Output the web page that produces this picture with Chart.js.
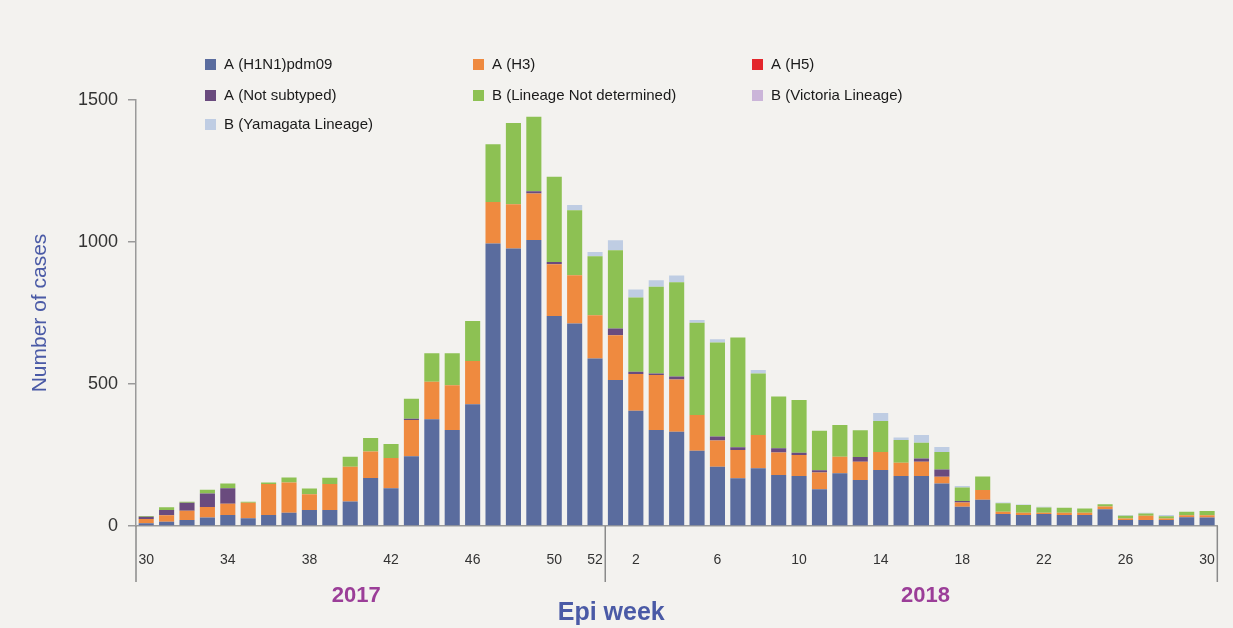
<!DOCTYPE html>
<html>
<head>
<meta charset="utf-8">
<script src="https://cdn.jsdelivr.net/npm/chart.js@4.4.0/dist/chart.umd.min.js"></script>
<style>
  html, body { margin: 0; padding: 0; background: #f3f2ef; }
  #wrap { width: 1233px; height: 628px; position: relative; }
</style>
</head>
<body>
<div id="wrap"><canvas id="myChart"></canvas></div>
<script>
// epi weeks 30/2017 .. 30/2018
const weeks = ['30','31','32','33','34','35','36','37','38','39','40','41','42','43','44','45','46','47','48','49','50','51','52',
  '1','2','3','4','5','6','7','8','9','10','11','12','13','14','15','16','17','18','19','20','21','22','23','24','25','26','27','28','29','30'];
const shownWeeks = [0, 4, 8, 12, 16, 20, 22, 24, 28, 32, 36, 40, 44, 48, 52]; // indexes that get a label
const years = ['2017', '2018'];

const h1n1 = [10,15,21,30,39,27,39,47,56,56,86,169,133,246,376,338,429,995,977,1007,739,713,590,
  514,406,338,332,265,209,168,203,180,176,129,186,162,197,176,176,150,68,92,42,39,42,39,39,59,21,21,21,31,30];
const h3 = [15,23,33,37,39,55,109,106,56,92,123,93,106,127,132,158,152,146,156,164,183,170,152,
  158,129,194,184,126,92,100,117,79,74,59,58,64,64,47,50,23,15,35,8,8,5,8,8,10,5,15,5,7,8];
const h5 = new Array(53).fill(0);
const notSubtyped = [8,18,28,47,55,0,0,0,0,0,0,0,0,5,0,0,0,0,0,8,8,0,0,
  23,8,5,10,0,14,9,0,15,8,8,0,17,0,0,12,26,5,0,0,0,0,0,0,0,0,0,0,0,0];
const bNotDetermined = [2,10,3,14,17,3,5,18,20,22,35,48,50,70,100,112,141,203,286,262,300,229,208,
  276,262,305,332,325,331,387,217,182,186,139,112,94,109,80,55,62,48,47,30,27,18,17,15,8,10,8,8,12,15];
const bVictoria = new Array(53).fill(0);
const bYamagata = [0,0,0,0,0,0,0,0,0,0,0,0,0,0,0,0,0,0,0,0,0,18,15,
  35,28,23,24,9,12,0,12,0,0,0,0,0,28,9,27,17,5,0,3,2,3,0,0,0,3,3,5,0,0];

const FONT = '"Liberation Sans", Arial, sans-serif';

// legend drawn as a 3-column grid like the original
const gridLegend = {
  id: 'gridLegend',
  afterDraw(chart) {
    const ctx = chart.ctx;
    const colX = [205, 473, 752];
    const rowY = [64, 95, 124];
    ctx.save();
    ctx.font = '15px ' + FONT;
    ctx.textBaseline = 'middle';
    chart.data.datasets.forEach((ds, i) => {
      const x = colX[i % 3], y = rowY[Math.floor(i / 3)];
      ctx.fillStyle = ds.backgroundColor;
      ctx.fillRect(x, y - 5, 11, 11);
      ctx.fillStyle = '#1a1a1a';
      ctx.fillText(ds.label, x + 19, y + 1);
    });
    ctx.restore();
  }
};

// year separators, year names and the axis title under the week axis
const yearAxis = {
  id: 'yearAxis',
  afterDraw(chart) {
    const ctx = chart.ctx;
    const xs = chart.scales.x;
    const area = chart.chartArea;
    const split = (xs.getPixelForValue(22) + xs.getPixelForValue(23)) / 2;
    ctx.save();
    ctx.strokeStyle = '#8a8a8a';
    ctx.lineWidth = 1.5;
    [area.left, split, area.right].forEach(px => {
      ctx.beginPath();
      ctx.moveTo(px, area.bottom);
      ctx.lineTo(px, area.bottom + 56);
      ctx.stroke();
    });
    ctx.font = 'bold 22px ' + FONT;
    ctx.fillStyle = '#9b3e98';
    ctx.textAlign = 'center';
    ctx.textBaseline = 'middle';
    ctx.fillText(years[0], xs.getPixelForValue(10.3), area.bottom + 70);
    ctx.fillText(years[1], xs.getPixelForValue(38.2), area.bottom + 70);
    ctx.font = 'bold 25px ' + FONT;
    ctx.fillStyle = '#4a5aa6';
    ctx.fillText('Epi week', split + 6, area.bottom + 87);
    ctx.restore();
  }
};

const data = {
  labels: weeks,
  datasets: [
    { label: 'A (H1N1)pdm09', data: h1n1, backgroundColor: '#5a6c9e' },
    { label: 'A (H3)', data: h3, backgroundColor: '#ef8a3f' },
    { label: 'A (H5)', data: h5, backgroundColor: '#e3262b' },
    { label: 'A (Not subtyped)', data: notSubtyped, backgroundColor: '#6a4b7e' },
    { label: 'B (Lineage Not determined)', data: bNotDetermined, backgroundColor: '#8dc153' },
    { label: 'B (Victoria Lineage)', data: bVictoria, backgroundColor: '#cbb5d9' },
    { label: 'B (Yamagata Lineage)', data: bYamagata, backgroundColor: '#bfcde3' }
  ]
};

const config = {
  type: 'bar',
  data: data,
  plugins: [gridLegend, yearAxis],
  options: {
    responsive: true,
    maintainAspectRatio: false,
    animation: false,
    layout: { padding: { top: 100, right: 11, left: 0, bottom: 0 } },
    datasets: { bar: { barPercentage: 0.74, categoryPercentage: 1.0 } },
    plugins: { legend: { display: false }, tooltip: { enabled: false } },
    scales: {
      x: {
        stacked: true,
        grid: { display: false },
        border: { display: true, color: '#9a9a9a', width: 1.5 },
        ticks: {
          autoSkip: false, maxRotation: 0, padding: 18,
          color: '#333', font: { family: FONT, size: 14 },
          callback: function(v, i) { return shownWeeks.includes(i) ? weeks[i] : ''; }
        },
        afterFit: function(scale) { scale.height = 102; }
      },
      y: {
        stacked: true,
        min: 0, max: 1500,
        ticks: {
          stepSize: 500, padding: 10, color: '#333', font: { family: FONT, size: 18 },
          callback: function(v) { return String(v); }
        },
        grid: { drawOnChartArea: false, drawTicks: true, tickLength: 8, color: '#9a9a9a', lineWidth: 1.5 },
        border: { display: true, color: '#9a9a9a', width: 1.5 },
        title: {
          display: true, text: 'Number of cases', color: '#4a5aa6',
          font: { family: FONT, size: 21 },
          padding: { top: 28, bottom: 0 }
        },
        afterFit: function(scale) { scale.width = 136; }
      }
    }
  }
};

const myChart = new Chart(document.getElementById('myChart'), config);
</script>
</body>
</html>
